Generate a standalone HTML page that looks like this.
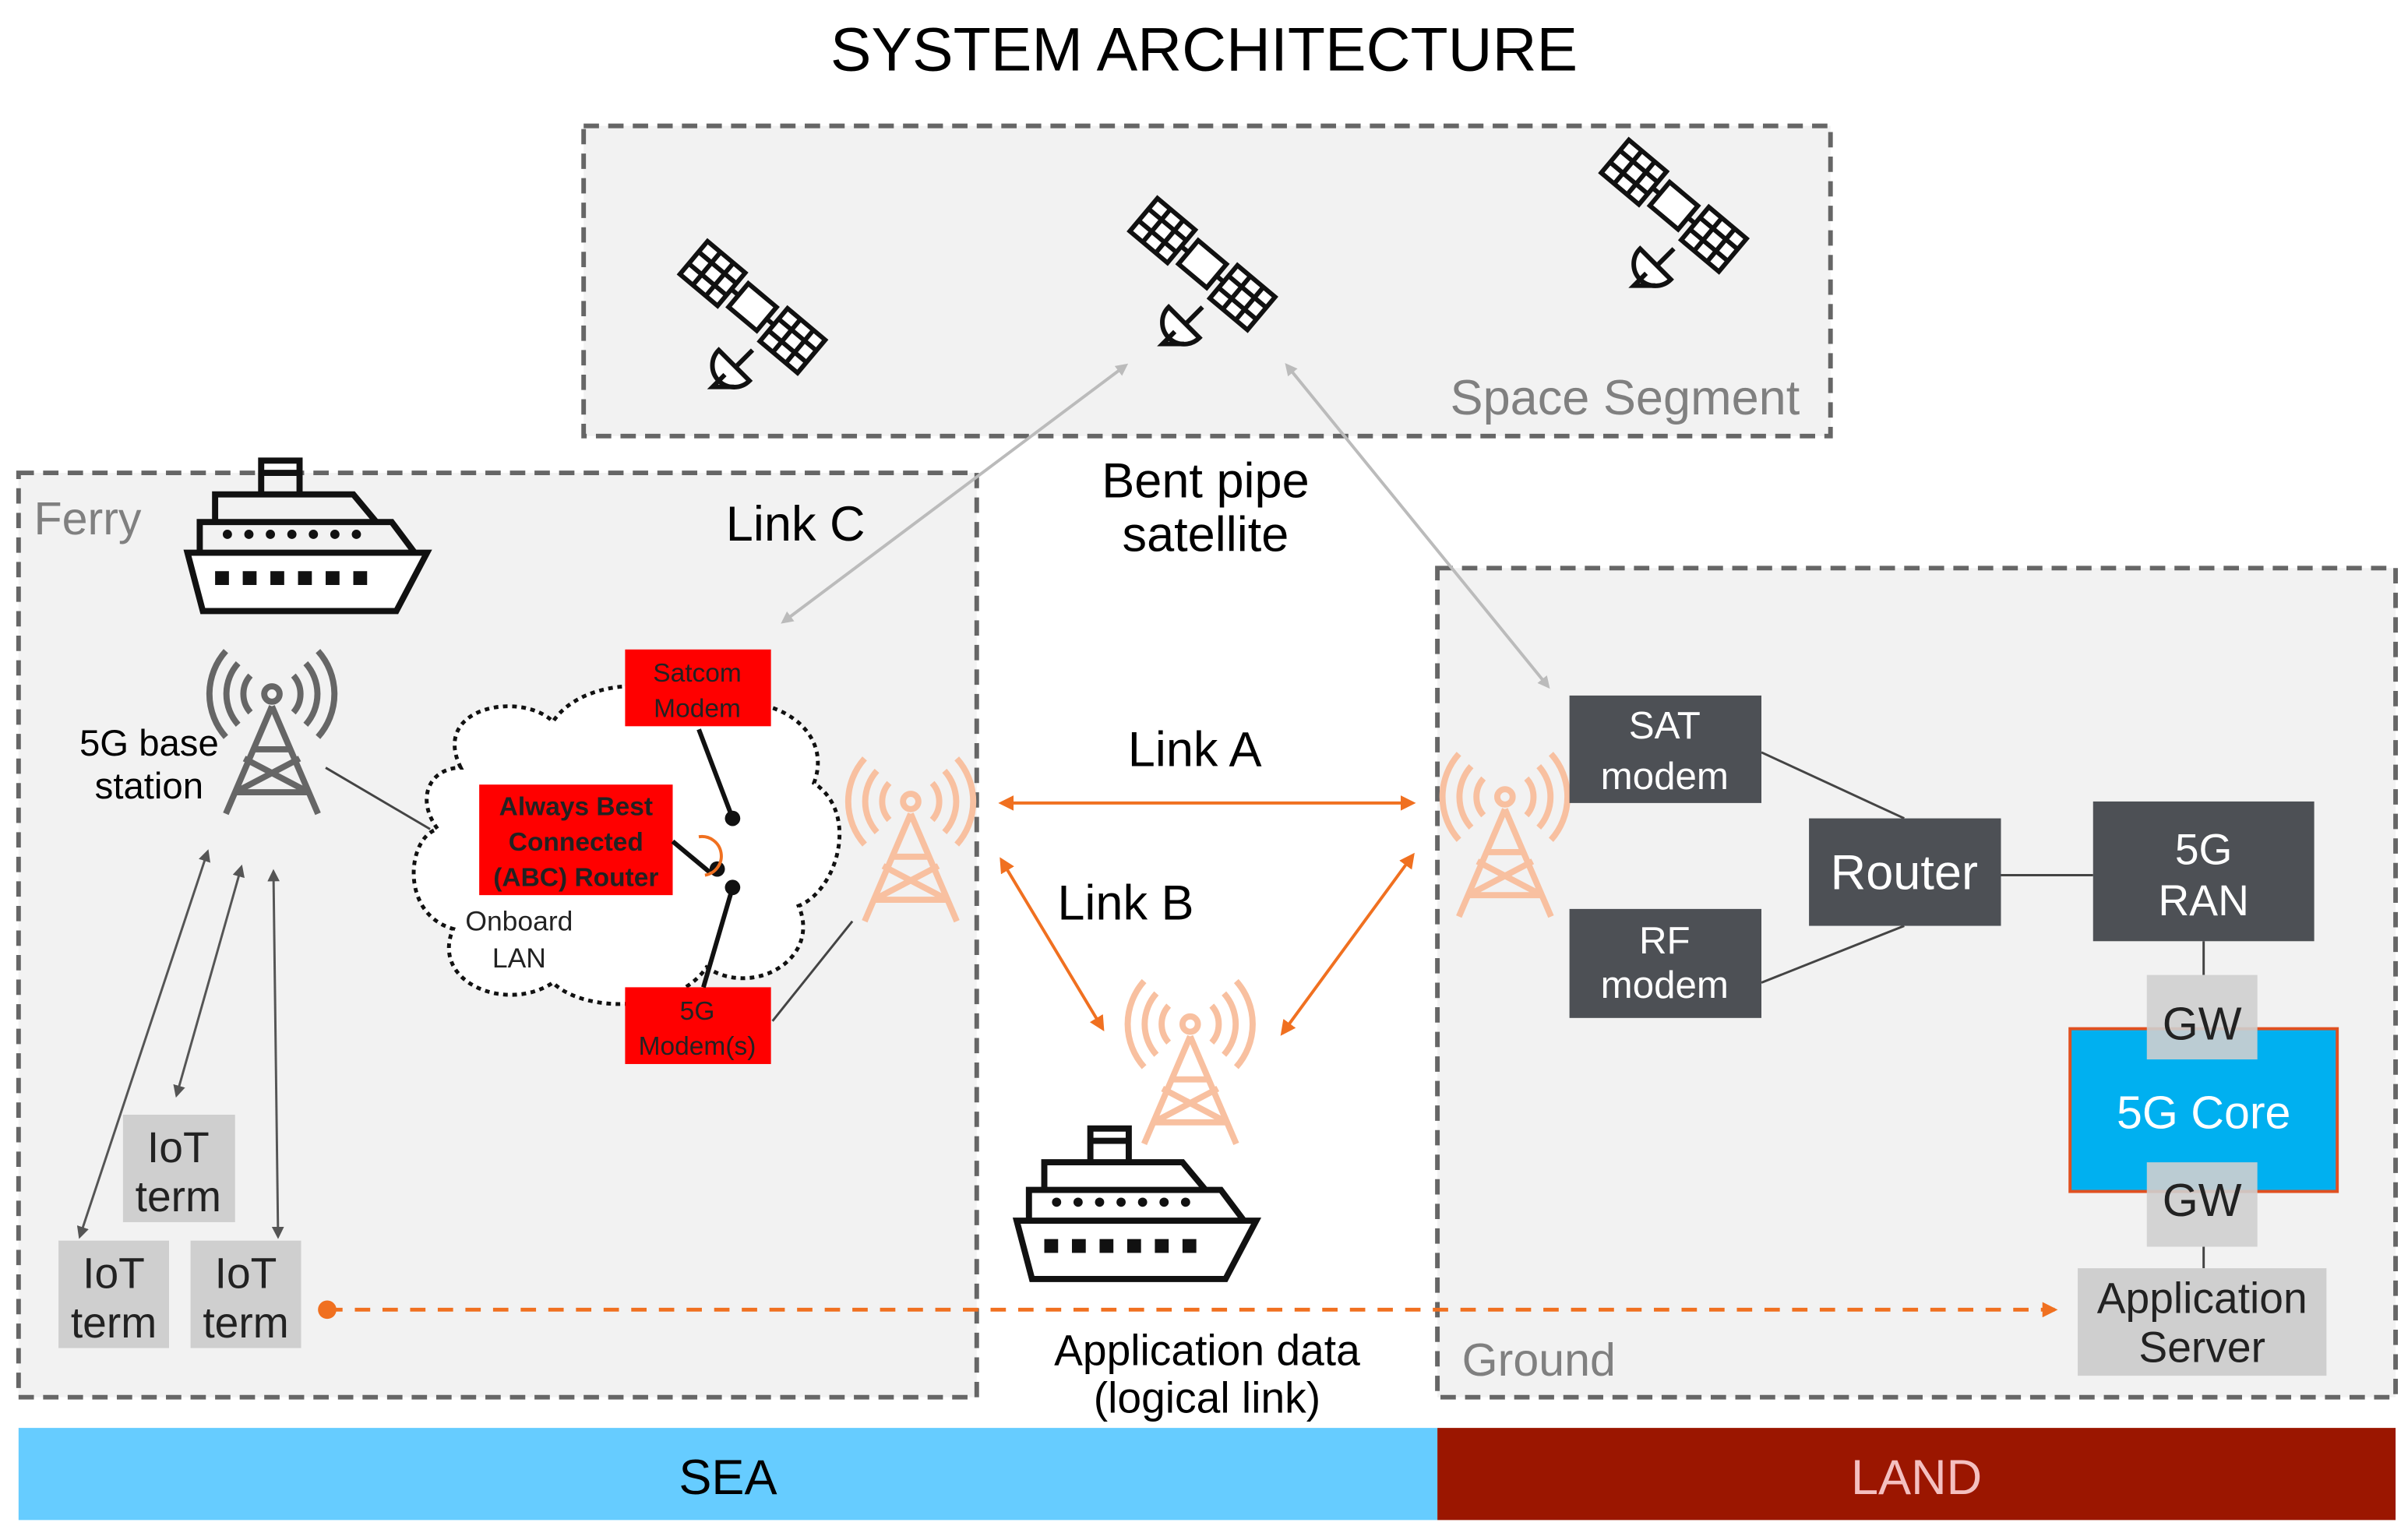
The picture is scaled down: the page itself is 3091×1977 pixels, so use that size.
<!DOCTYPE html>
<html><head><meta charset="utf-8"><style>
html,body{margin:0;padding:0;background:#fff;}
svg{display:block;}
text{font-family:"Liberation Sans",sans-serif;}
</style></head><body>
<svg width="3091" height="1977" viewBox="0 0 1568 1003" xmlns="http://www.w3.org/2000/svg">
<defs>
<marker id="ag" markerWidth="8" markerHeight="8" refX="6" refY="4" orient="auto-start-reverse" markerUnits="userSpaceOnUse"><path d="M0,0 L8,4 L0,8 z" fill="#bbb"/></marker>
<marker id="ad" markerWidth="8" markerHeight="8" refX="6" refY="4" orient="auto-start-reverse" markerUnits="userSpaceOnUse"><path d="M0,0 L8,4 L0,8 z" fill="#555"/></marker>
<marker id="ao" markerWidth="10" markerHeight="10" refX="8" refY="5" orient="auto-start-reverse" markerUnits="userSpaceOnUse"><path d="M0,0 L10,5 L0,10 z" fill="#f07020"/></marker>
<g id="sat" fill="none" stroke="#111" stroke-width="3">
 <g transform="rotate(40)">
  <rect x="-50" y="-14" width="32" height="28" fill="#fff"/><path d="M-50,-5H-18M-50,5H-18M-39,-14V14M-28,-14V14"/>
  <rect x="18" y="-14" width="32" height="28" fill="#fff"/><path d="M18,-5H50M18,5H50M29,-14V14M40,-14V14"/>
  <rect x="-12" y="-10" width="24" height="20" fill="#fff"/><path d="M-18,0H-12M12,0H18"/>
 </g>
 <path d="M-22,28 a14,14 0 0 0 20,20 z" fill="#fff"/><path d="M-10,38 L0,28 M-18,44 L-26,52 H-12"/>
</g>
<g id="ship" fill="none" stroke="#111" stroke-width="4">
 <path d="M-78,30 L78,30 L58,68 L-68,68 Z" fill="#fff"/>
 <path d="M-70,30 V10 H55 L70,30"/>
 <path d="M-60,10 V-8 H30 L45,10"/>
 <path d="M-30,-8 V-30 H-5 V-8"/><path d="M-30,-22 H-5"/>
 <g fill="#111" stroke="none"><circle cx="-52" cy="18" r="3"/><circle cx="-38" cy="18" r="3"/><circle cx="-24" cy="18" r="3"/><circle cx="-10" cy="18" r="3"/><circle cx="4" cy="18" r="3"/><circle cx="18" cy="18" r="3"/><circle cx="32" cy="18" r="3"/>
 <rect x="-60" y="42" width="9" height="9"/><rect x="-42" y="42" width="9" height="9"/><rect x="-24" y="42" width="9" height="9"/><rect x="-6" y="42" width="9" height="9"/><rect x="12" y="42" width="9" height="9"/><rect x="30" y="42" width="9" height="9"/></g>
</g>
<g id="tower" fill="none" stroke-width="4">
 <path d="M0,-10 L-30,60 M0,-10 L30,60 M-24,46 L18,24 M24,46 L-18,24 M-12,18 L12,18 M-24,46 H24"/>
 <circle cx="0" cy="-18" r="5"/>
 <path d="M-14,-30 a18,18 0 0 0 0,24 M14,-30 a18,18 0 0 1 0,24 M-22,-38 a30,30 0 0 0 0,40 M22,-38 a30,30 0 0 1 0,40 M-30,-46 a42,42 0 0 0 0,56 M30,-46 a42,42 0 0 1 0,56"/>
</g>
</defs>
<rect width="1568" height="1003" fill="#fff"/>
<text x="784" y="46" font-size="40" text-anchor="middle" fill="#000">SYSTEM ARCHITECTURE</text>

<rect x="380" y="82" width="812" height="202" fill="#f2f2f2" stroke="#666" stroke-width="3" stroke-dasharray="10,6"/>
<text x="1172" y="270" font-size="32" text-anchor="end" fill="#808080">Space Segment</text>
<rect x="12" y="308" width="624" height="602" fill="#f2f2f2" stroke="#666" stroke-width="3" stroke-dasharray="10,6"/>
<text x="22" y="348" font-size="30" fill="#808080">Ferry</text>
<rect x="936" y="370" width="624" height="540" fill="#f2f2f2" stroke="#666" stroke-width="3" stroke-dasharray="10,6"/>
<text x="952" y="896" font-size="30" fill="#808080">Ground</text>

<rect x="12" y="930" width="924" height="60" fill="#66ccff"/>
<text x="474" y="973" font-size="32" text-anchor="middle" fill="#000">SEA</text>
<rect x="936" y="930" width="624" height="60" fill="#9b1600"/>
<text x="1248" y="973" font-size="32" text-anchor="middle" fill="#f4c0c0">LAND</text>

<use href="#sat" x="490" y="200"/>
<use href="#sat" x="783" y="172"/>
<use href="#sat" x="1090" y="134"/>
<use href="#ship" x="200" y="330"/>
<use href="#ship" x="740" y="765"/>
<use href="#tower" x="177" y="470" stroke="#666"/>
<use href="#tower" x="593" y="540" stroke="#f8c0a0"/>
<use href="#tower" x="980" y="537" stroke="#f8c0a0"/>
<use href="#tower" x="775" y="685" stroke="#f8c0a0"/>

<!-- cloud -->
<path d="M300,500 C280,460 340,450 360,470 C380,440 440,440 460,465 C490,445 545,470 530,510 C560,530 545,580 520,590 C535,625 490,650 460,630 C440,660 380,660 360,640 C330,660 280,640 295,605 C260,595 265,545 285,540 C270,520 280,500 300,500 Z" fill="#fff" stroke="#111" stroke-width="2.5" stroke-dasharray="3,3"/>
<rect x="407" y="423" width="95" height="50" fill="#ff0000"/>
<text x="454" y="444" font-size="17" text-anchor="middle" fill="#222">Satcom</text>
<text x="454" y="467" font-size="17" text-anchor="middle" fill="#222">Modem</text>
<rect x="312" y="511" width="126" height="72" fill="#ff0000"/>
<text x="375" y="531" font-size="17" font-weight="bold" text-anchor="middle" fill="#222">Always Best</text>
<text x="375" y="554" font-size="17" font-weight="bold" text-anchor="middle" fill="#222">Connected</text>
<text x="375" y="577" font-size="17" font-weight="bold" text-anchor="middle" fill="#222">(ABC) Router</text>
<rect x="407" y="643" width="95" height="50" fill="#ff0000"/>
<text x="454" y="664" font-size="17" text-anchor="middle" fill="#222">5G</text>
<text x="454" y="687" font-size="17" text-anchor="middle" fill="#222">Modem(s)</text>
<g stroke="#111" stroke-width="3"><path d="M455,475 L477,533 M438,548 L462,568 M477,578 L458,643"/></g>
<circle cx="477" cy="533" r="5" fill="#111"/><circle cx="477" cy="578" r="5" fill="#111"/><circle cx="467" cy="566" r="5" fill="#111"/>
<path d="M455,545 a12,12 0 0 1 4,25" fill="none" stroke="#f07020" stroke-width="2"/>
<text x="338" y="606" font-size="18" text-anchor="middle" fill="#222">Onboard</text>
<text x="338" y="630" font-size="18" text-anchor="middle" fill="#222">LAN</text>

<g stroke="#444" stroke-width="1.5" fill="none">
<path d="M212,500 L280,540"/><path d="M503,665 L555,600"/>
<path d="M1147,490 L1240,533"/><path d="M1147,640 L1240,603"/><path d="M1303,570 L1363,570"/>
<path d="M1435,613 V635"/><path d="M1435,812 V826"/>
</g>

<rect x="1022" y="453" width="125" height="70" fill="#4d5055"/>
<text x="1084" y="481" font-size="25" text-anchor="middle" fill="#fff">SAT</text>
<text x="1084" y="514" font-size="25" text-anchor="middle" fill="#fff">modem</text>
<rect x="1022" y="592" width="125" height="71" fill="#4d5055"/>
<text x="1084" y="621" font-size="25" text-anchor="middle" fill="#fff">RF</text>
<text x="1084" y="650" font-size="25" text-anchor="middle" fill="#fff">modem</text>
<rect x="1178" y="533" width="125" height="70" fill="#4d5055"/>
<text x="1240" y="579" font-size="32" text-anchor="middle" fill="#fff">Router</text>
<rect x="1363" y="522" width="144" height="91" fill="#4d5055"/>
<text x="1435" y="563" font-size="28" text-anchor="middle" fill="#fff">5G</text>
<text x="1435" y="596" font-size="28" text-anchor="middle" fill="#fff">RAN</text>
<rect x="1348" y="670" width="174" height="106" fill="#00b0f0" stroke="#e05020" stroke-width="2"/>
<text x="1435" y="735" font-size="30" text-anchor="middle" fill="#fff">5G Core</text>
<rect x="1398" y="635" width="72" height="55" fill="#cfcfcf" fill-opacity="0.9"/>
<text x="1434" y="677" font-size="30" text-anchor="middle" fill="#222">GW</text>
<rect x="1398" y="757" width="72" height="55" fill="#cfcfcf" fill-opacity="0.9"/>
<text x="1434" y="792" font-size="30" text-anchor="middle" fill="#222">GW</text>
<rect x="1353" y="826" width="162" height="70" fill="#cfcfcf"/>
<text x="1434" y="855" font-size="28" text-anchor="middle" fill="#222">Application</text>
<text x="1434" y="887" font-size="28" text-anchor="middle" fill="#222">Server</text>

<rect x="80" y="726" width="73" height="70" fill="#cfcfcf"/>
<text x="116" y="757" font-size="28" text-anchor="middle" fill="#222">IoT</text>
<text x="116" y="789" font-size="28" text-anchor="middle" fill="#222">term</text>
<rect x="38" y="808" width="72" height="70" fill="#cfcfcf"/>
<text x="74" y="839" font-size="28" text-anchor="middle" fill="#222">IoT</text>
<text x="74" y="871" font-size="28" text-anchor="middle" fill="#222">term</text>
<rect x="124" y="808" width="72" height="70" fill="#cfcfcf"/>
<text x="160" y="839" font-size="28" text-anchor="middle" fill="#222">IoT</text>
<text x="160" y="871" font-size="28" text-anchor="middle" fill="#222">term</text>

<g stroke="#555" stroke-width="1.5" fill="none">
<path d="M135,555 L52,805" marker-start="url(#ad)" marker-end="url(#ad)"/>
<path d="M157,565 L115,713" marker-start="url(#ad)" marker-end="url(#ad)"/>
<path d="M178,568 L181,805" marker-start="url(#ad)" marker-end="url(#ad)"/>
</g>
<g stroke="#bbb" stroke-width="2" fill="none">
<path d="M733,238 L510,405" marker-start="url(#ag)" marker-end="url(#ag)"/>
<path d="M838,238 L1008,447" marker-start="url(#ag)" marker-end="url(#ag)"/>
</g>
<g stroke="#f07020" stroke-width="2" fill="none">
<path d="M652,523 L920,523" marker-start="url(#ao)" marker-end="url(#ao)"/>
<path d="M652,560 L718,670" marker-start="url(#ao)" marker-end="url(#ao)"/>
<path d="M920,557 L835,673" marker-start="url(#ao)" marker-end="url(#ao)"/>
<path d="M213,853 L1338,853" stroke-dasharray="10,8" stroke-width="2.5" marker-end="url(#ao)"/>
</g>
<circle cx="213" cy="853" r="6" fill="#f07020"/>

<text x="518" y="352" font-size="32" text-anchor="middle" fill="#000">Link C</text>
<text x="785" y="324" font-size="32" text-anchor="middle" fill="#000">Bent pipe</text>
<text x="785" y="359" font-size="32" text-anchor="middle" fill="#000">satellite</text>
<text x="778" y="499" font-size="32" text-anchor="middle" fill="#000">Link A</text>
<text x="733" y="599" font-size="32" text-anchor="middle" fill="#000">Link B</text>
<text x="786" y="889" font-size="28" text-anchor="middle" fill="#000">Application data</text>
<text x="786" y="920" font-size="28" text-anchor="middle" fill="#000">(logical link)</text>
<text x="97" y="492" font-size="24" text-anchor="middle" fill="#000">5G base</text>
<text x="97" y="520" font-size="24" text-anchor="middle" fill="#000">station</text>
</svg>
</body></html>
